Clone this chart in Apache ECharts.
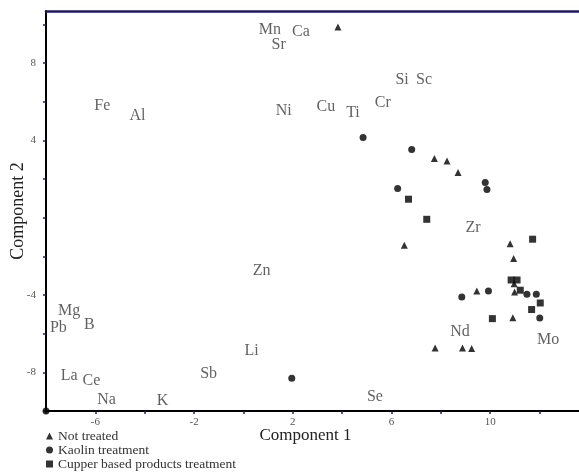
<!DOCTYPE html>
<html>
<head>
<meta charset="utf-8">
<script src="https://cdn.jsdelivr.net/npm/echarts@6/dist/echarts.min.js"></script>
<style>
  html, body { margin: 0; padding: 0; background: #fff; }
  #chart { width: 579px; height: 472px; }
</style>
</head>
<body>
<div id="chart"></div>
<script>
// Sample scores (component 1, component 2) per treatment group
const notTreated = [
  [3.83, 9.87], [7.74, 3.07], [8.25, 2.94], [8.70, 2.34], [6.52, -1.42],
  [10.81, -1.34], [10.95, -2.11], [9.46, -3.79], [10.99, -3.84], [10.97, -3.42],
  [10.92, -5.17], [7.77, -6.74], [8.88, -6.74], [9.25, -6.77]
];
const kaolin = [
  [4.85, 4.15], [6.82, 3.53], [6.25, 1.51], [9.80, 1.82], [9.87, 1.46],
  [8.85, -4.10], [9.93, -3.79], [11.49, -3.96], [11.87, -3.96], [12.01, -5.19],
  [1.96, -8.31], [-8.0, -10.0]
];
const cupper = [
  [6.69, 0.96], [7.43, -0.08], [11.72, -1.11], [11.22, -3.75], [12.03, -4.41],
  [11.68, -4.75], [10.09, -5.22], [10.85, -3.22], [11.09, -3.22]
];

// Element loadings, drawn as text at their coordinates
const elementNames = ['Mn', 'Ca', 'Sr', 'Si', 'Sc', 'Cr', 'Cu', 'Ti', 'Ni', 'Fe', 'Al', 'Zr', 'Zn',
  'Mg', 'Pb', 'B', 'Li', 'Nd', 'Mo', 'La', 'Ce', 'Sb', 'Na', 'K', 'Se'];
const elementX = [1.07, 2.33, 1.43, 6.43, 7.32, 5.65, 3.34, 4.44, 1.63, -5.72, -4.29, 9.31, 0.74,
  -7.06, -7.50, -6.24, 0.33, 8.78, 12.35, -7.06, -6.16, -1.41, -5.55, -3.28, 5.33];
const elementY = [9.71, 9.61, 8.93, 7.12, 7.12, 5.93, 5.72, 5.41, 5.51, 5.77, 5.26, -0.54, -2.77,
  -4.84, -5.72, -5.52, -6.91, -5.88, -6.34, -8.16, -8.42, -8.05, -9.40, -9.45, -9.24];

// Axis ticks and labelled values
const xTicks = [-8, -6, -4, -2, 0, 2, 4, 6, 8, 10, 12];
const xLabels = [-6, -2, 2, 6, 10];
const yTicks = [-10, -8, -6, -4, -2, 0, 2, 4, 6, 8, 10];
const yLabels = [-8, -4, 4, 8];

const seriesNames = ['Not treated', 'Kaolin treatment', 'Cupper based products treatment'];

const serif = '"Liberation Serif", "Times New Roman", serif';
const tickColor = '#1f1d6b';

const chart = echarts.init(document.getElementById('chart'));

const elementData = elementNames.map((n, i) => ({ name: n, value: [elementX[i], elementY[i]] }));

chart.setOption({
  animation: false,
  backgroundColor: '#ffffff',
  grid: { left: 46, right: 0, top: 11, bottom: 61, containLabel: false, outerBoundsMode: 'none' },
  legend: {
    data: seriesNames.map(n => ({ name: n })),
    orient: 'vertical',
    left: 46,
    top: 429,
    padding: 0,
    itemWidth: 7,
    itemHeight: 7,
    itemGap: 0,
    textStyle: { fontFamily: serif, fontSize: 13.5, color: '#333', lineHeight: 14 },
    selectedMode: false
  },
  xAxis: [{
    type: 'value',
    min: -8,
    max: 13.6,
    name: 'Component 1',
    nameLocation: 'middle',
    nameGap: 16,
    nameMoveOverlap: false,
    nameTextStyle: { fontFamily: serif, fontSize: 17, color: '#222', padding: [0, 14, 0, 0] },
    axisLine: { show: true, onZero: false, lineStyle: { color: '#000', width: 2 } },
    axisTick: { show: true, length: 3, customValues: xTicks, lineStyle: { color: tickColor, width: 1.5 } },
    axisLabel: { customValues: xLabels, margin: 6, fontFamily: serif, fontSize: 11, color: '#555' },
    splitLine: { show: false }
  }, {
    type: 'value',
    position: 'top',
    min: -8,
    max: 13.6,
    axisLine: { show: true, onZero: false, lineStyle: { color: '#1c1a6b', width: 2.5 } },
    axisTick: { show: false },
    axisLabel: { show: false },
    splitLine: { show: false }
  }],
  yAxis: {
    type: 'value',
    min: -10,
    max: 10.7,
    name: 'Component 2',
    nameLocation: 'middle',
    nameGap: 19,
    nameMoveOverlap: false,
    nameTextStyle: { fontFamily: serif, fontSize: 18, color: '#222' },
    axisLine: { show: true, onZero: false, lineStyle: { color: '#000', width: 2 } },
    axisTick: { show: true, length: 3, customValues: yTicks, lineStyle: { color: tickColor, width: 1.5 } },
    axisLabel: { customValues: yLabels, margin: 10, fontFamily: serif, fontSize: 11, color: '#555' },
    splitLine: { show: false }
  },
  series: [{
    name: seriesNames[0],
    type: 'scatter',
    symbol: 'triangle',
    symbolSize: 7,
    itemStyle: { color: '#000' },
    data: notTreated
  }, {
    name: seriesNames[1],
    type: 'scatter',
    symbol: 'circle',
    symbolSize: 7,
    itemStyle: { color: '#000' },
    data: kaolin
  }, {
    name: seriesNames[2],
    type: 'scatter',
    symbol: 'rect',
    symbolSize: 7,
    itemStyle: { color: '#000' },
    data: cupper
  }, {
    name: 'elements',
    type: 'scatter',
    symbolSize: 0,
    silent: true,
    label: {
      show: true,
      position: 'inside',
      formatter: p => p.name,
      fontFamily: serif,
      fontSize: 16,
      color: '#3a3a3a'
    },
    data: elementData
  }]
});
</script>
</body>
</html>
